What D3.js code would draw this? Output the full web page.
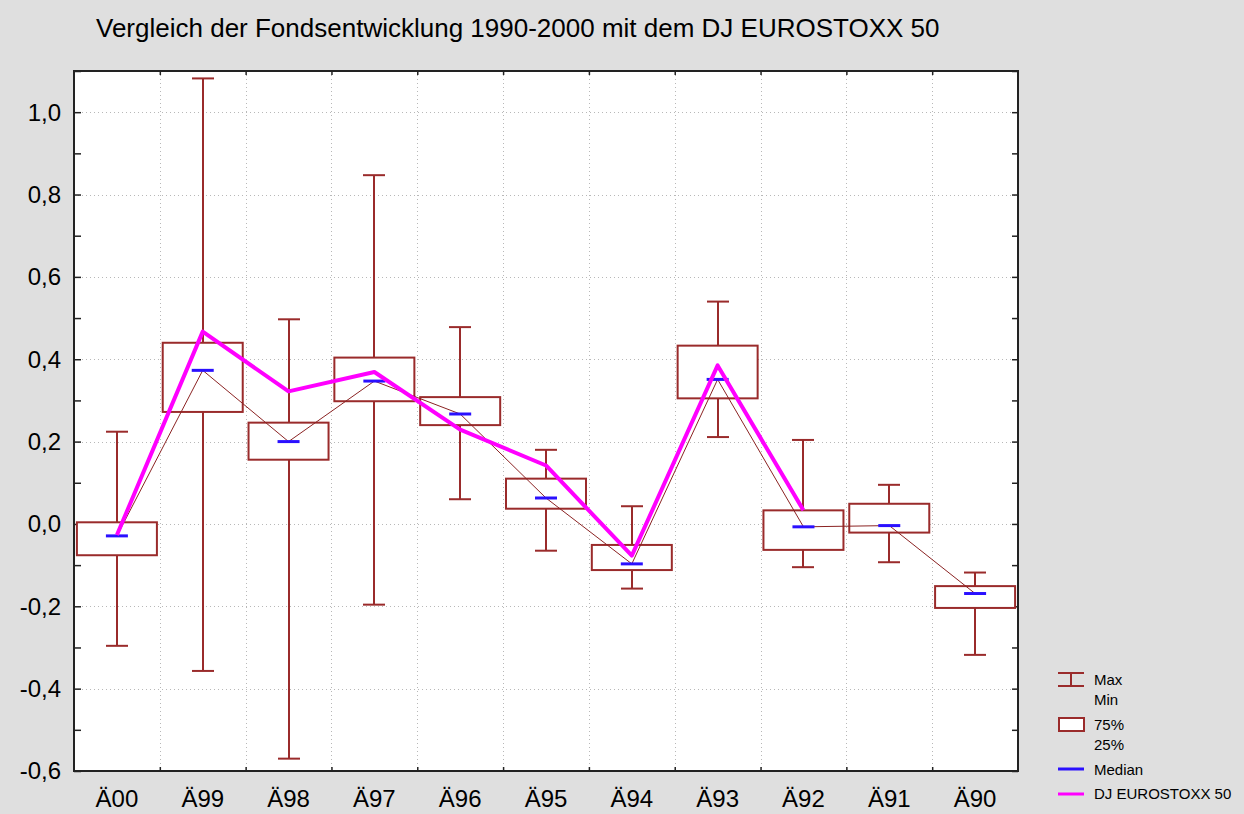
<!DOCTYPE html>
<html>
<head>
<meta charset="utf-8">
<style>
  body { margin: 0; background: #dfdfdf; }
  svg { display: block; }
  text { font-family: "Liberation Sans", Arial, sans-serif; fill: #000; }
</style>
</head>
<body>
<svg id="chart" width="1244" height="814"></svg>
<script src="https://d3js.org/d3.v7.min.js"></script>
<script>
    const WIDTH = 1244;
    const HEIGHT = 814;

    // fund return stats per year
    const categories = ['Ä00', 'Ä99', 'Ä98', 'Ä97', 'Ä96', 'Ä95', 'Ä94', 'Ä93', 'Ä92', 'Ä91', 'Ä90'];
    const maxVals = [0.224, 1.082, 0.497, 0.847, 0.478, 0.180, 0.043, 0.540, 0.204, 0.095, -0.118];
    const q75Vals = [0.004, 0.440, 0.246, 0.404, 0.308, 0.110, -0.051, 0.433, 0.033, 0.049, -0.151];
    const medianVals = [-0.029, 0.373, 0.200, 0.347, 0.267, 0.063, -0.097, 0.351, -0.007, -0.004, -0.169];
    const q25Vals = [-0.076, 0.272, 0.156, 0.298, 0.240, 0.037, -0.112, 0.305, -0.063, -0.021, -0.204];
    const minVals = [-0.296, -0.357, -0.570, -0.196, 0.060, -0.065, -0.157, 0.211, -0.105, -0.093, -0.318];
    const djVals = [-0.027, 0.467, 0.322, 0.369, 0.229, 0.142, -0.077, 0.385, 0.033, null, null];
    const yTicks = [-0.6, -0.4, -0.2, 0.0, 0.2, 0.4, 0.6, 0.8, 1.0];

    const BOX_RED = '#9a2b2b';
    const PL = 74, PR = 1018, PT = 71, PB = 771;

    let svg = d3.select('#chart');

    svg.append('rect')
        .attr('width', WIDTH)
        .attr('height', HEIGHT)
        .attr('fill', '#dfdfdf');

    let x = d3.scaleBand().domain(categories).range([PL, PR]);
    let y = d3.scaleLinear().domain([-0.6, 1.1]).range([PB, PT]);
    let bw = x.bandwidth();
    let cx = d => x(d) + bw / 2;

    // plot area
    svg.append('rect')
        .attr('x', PL).attr('y', PT)
        .attr('width', PR - PL).attr('height', PB - PT)
        .attr('fill', '#fff');

    // grid
    let grid = svg.append('g')
        .attr('stroke', '#b8b8b8')
        .attr('stroke-width', 1)
        .attr('stroke-dasharray', '1,3');
    grid.selectAll('line.h')
        .data(yTicks.filter(t => t > -0.6))
        .join('line')
        .attr('class', 'h')
        .attr('x1', PL).attr('x2', PR)
        .attr('y1', d => Math.round(y(d)) + 0.5).attr('y2', d => Math.round(y(d)) + 0.5);
    grid.selectAll('line.v')
        .data(categories.slice(1))
        .join('line')
        .attr('class', 'v')
        .attr('x1', d => Math.round(x(d)) + 0.5).attr('x2', d => Math.round(x(d)) + 0.5)
        .attr('y1', PT).attr('y2', PB);

    // axes: left/right with inner ticks every 0.1, top/bottom ticks at category edges
    let minor = d3.range(-6, 12).map(i => i / 10);
    svg.append('g')
        .attr('transform', `translate(${PL},0)`)
        .call(d3.axisRight(y).tickValues(minor).tickSize(7).tickFormat(''))
        .call(g => g.select('.domain').remove());
    svg.append('g')
        .attr('transform', `translate(${PR},0)`)
        .call(d3.axisLeft(y).tickValues(minor).tickSize(6).tickFormat(''))
        .call(g => g.select('.domain').remove());
    let edgeScale = d3.scaleLinear().domain([0, categories.length]).range([PL, PR]);
    let edges = d3.range(1, categories.length);
    svg.append('g')
        .attr('transform', `translate(0,${PT})`)
        .call(d3.axisBottom(edgeScale).tickValues(edges).tickSize(4).tickFormat(''))
        .call(g => g.select('.domain').remove());
    svg.append('g')
        .attr('transform', `translate(0,${PB})`)
        .call(d3.axisTop(edgeScale).tickValues(edges).tickSize(4).tickFormat(''))
        .call(g => g.select('.domain').remove());
    svg.selectAll('.tick line').attr('stroke', '#222').attr('stroke-width', 1.5);

    // y labels
    svg.append('g').selectAll('text')
        .data(yTicks)
        .join('text')
        .attr('x', 61)
        .attr('y', d => y(d))
        .attr('dy', '0.35em')
        .attr('text-anchor', 'end')
        .style('font-size', '24px')
        .text(d => d3.format('.1f')(d).replace('.', ',').replace('−', '-'));

    // x labels
    svg.append('g').selectAll('text')
        .data(categories)
        .join('text')
        .attr('x', cx)
        .attr('y', 807)
        .attr('text-anchor', 'middle')
        .style('font-size', '24px')
        .text(d => d);

    // whiskers
    let capW = 22, boxW = 80, medW = 22;
    let whisk = svg.append('g').attr('stroke', BOX_RED).attr('stroke-width', 2);
    categories.forEach(function(c, i) {
        let xc = Math.round(cx(c));
        whisk.append('line').attr('x1', xc).attr('x2', xc).attr('y1', y(maxVals[i])).attr('y2', y(q75Vals[i]));
        whisk.append('line').attr('x1', xc).attr('x2', xc).attr('y1', y(q25Vals[i])).attr('y2', y(minVals[i]));
        whisk.append('line').attr('x1', xc - capW / 2).attr('x2', xc + capW / 2).attr('y1', y(maxVals[i])).attr('y2', y(maxVals[i]));
        whisk.append('line').attr('x1', xc - capW / 2).attr('x2', xc + capW / 2).attr('y1', y(minVals[i])).attr('y2', y(minVals[i]));
    });

    // boxes
    svg.append('g').selectAll('rect')
        .data(categories)
        .join('rect')
        .attr('x', d => cx(d) - boxW / 2)
        .attr('width', boxW)
        .attr('y', (d, i) => y(q75Vals[i]))
        .attr('height', (d, i) => y(q25Vals[i]) - y(q75Vals[i]))
        .attr('fill', '#fff')
        .attr('stroke', BOX_RED)
        .attr('stroke-width', 2);

    // thin line through the medians
    let line = d3.line()
        .defined(d => d[1] !== null)
        .x(d => cx(d[0]))
        .y(d => y(d[1]));
    svg.append('path')
        .datum(categories.map((c, i) => [c, medianVals[i]]))
        .attr('d', line)
        .attr('fill', 'none')
        .attr('stroke', '#8b2323')
        .attr('stroke-width', 1);

    // median markers
    svg.append('g').selectAll('line')
        .data(categories)
        .join('line')
        .attr('x1', d => cx(d) - medW / 2)
        .attr('x2', d => cx(d) + medW / 2)
        .attr('y1', (d, i) => y(medianVals[i]))
        .attr('y2', (d, i) => y(medianVals[i]))
        .attr('stroke', '#2a10ff')
        .attr('stroke-width', 3);

    // DJ EUROSTOXX 50
    svg.append('path')
        .datum(categories.map((c, i) => [c, djVals[i]]))
        .attr('d', line)
        .attr('fill', 'none')
        .attr('stroke', '#ff00ff')
        .attr('stroke-width', 4)
        .attr('stroke-linejoin', 'round');

    // frame
    svg.append('rect')
        .attr('x', PL).attr('y', PT)
        .attr('width', PR - PL).attr('height', PB - PT)
        .attr('fill', 'none')
        .attr('stroke', '#222')
        .attr('stroke-width', 2);

    // title
    svg.append('text')
        .attr('x', 96)
        .attr('y', 37)
        .style('font-size', '26px')
        .text('Vergleich der Fondsentwicklung 1990-2000 mit dem DJ EUROSTOXX 50');

    // legend
    let lg = svg.append('g').style('font-size', '15px');
    lg.append('line').attr('x1', 1058).attr('x2', 1084).attr('y1', 673).attr('y2', 673).attr('stroke', BOX_RED).attr('stroke-width', 2);
    lg.append('line').attr('x1', 1058).attr('x2', 1084).attr('y1', 686).attr('y2', 686).attr('stroke', BOX_RED).attr('stroke-width', 2);
    lg.append('line').attr('x1', 1071).attr('x2', 1071).attr('y1', 673).attr('y2', 686).attr('stroke', BOX_RED).attr('stroke-width', 2);
    lg.append('text').attr('x', 1094).attr('y', 685).text('Max');
    lg.append('text').attr('x', 1094).attr('y', 705).text('Min');
    lg.append('rect').attr('x', 1059).attr('y', 718).attr('width', 25).attr('height', 13)
        .attr('fill', '#fff').attr('stroke', BOX_RED).attr('stroke-width', 2);
    lg.append('text').attr('x', 1094).attr('y', 730).text('75%');
    lg.append('text').attr('x', 1094).attr('y', 750).text('25%');
    lg.append('line').attr('x1', 1058).attr('x2', 1084).attr('y1', 769).attr('y2', 769).attr('stroke', '#2a10ff').attr('stroke-width', 3);
    lg.append('text').attr('x', 1094).attr('y', 775).text('Median');
    lg.append('line').attr('x1', 1058).attr('x2', 1084).attr('y1', 794).attr('y2', 794).attr('stroke', '#ff00ff').attr('stroke-width', 3);
    lg.append('text').attr('x', 1094).attr('y', 799).text('DJ EUROSTOXX 50');
</script>
</body>
</html>
